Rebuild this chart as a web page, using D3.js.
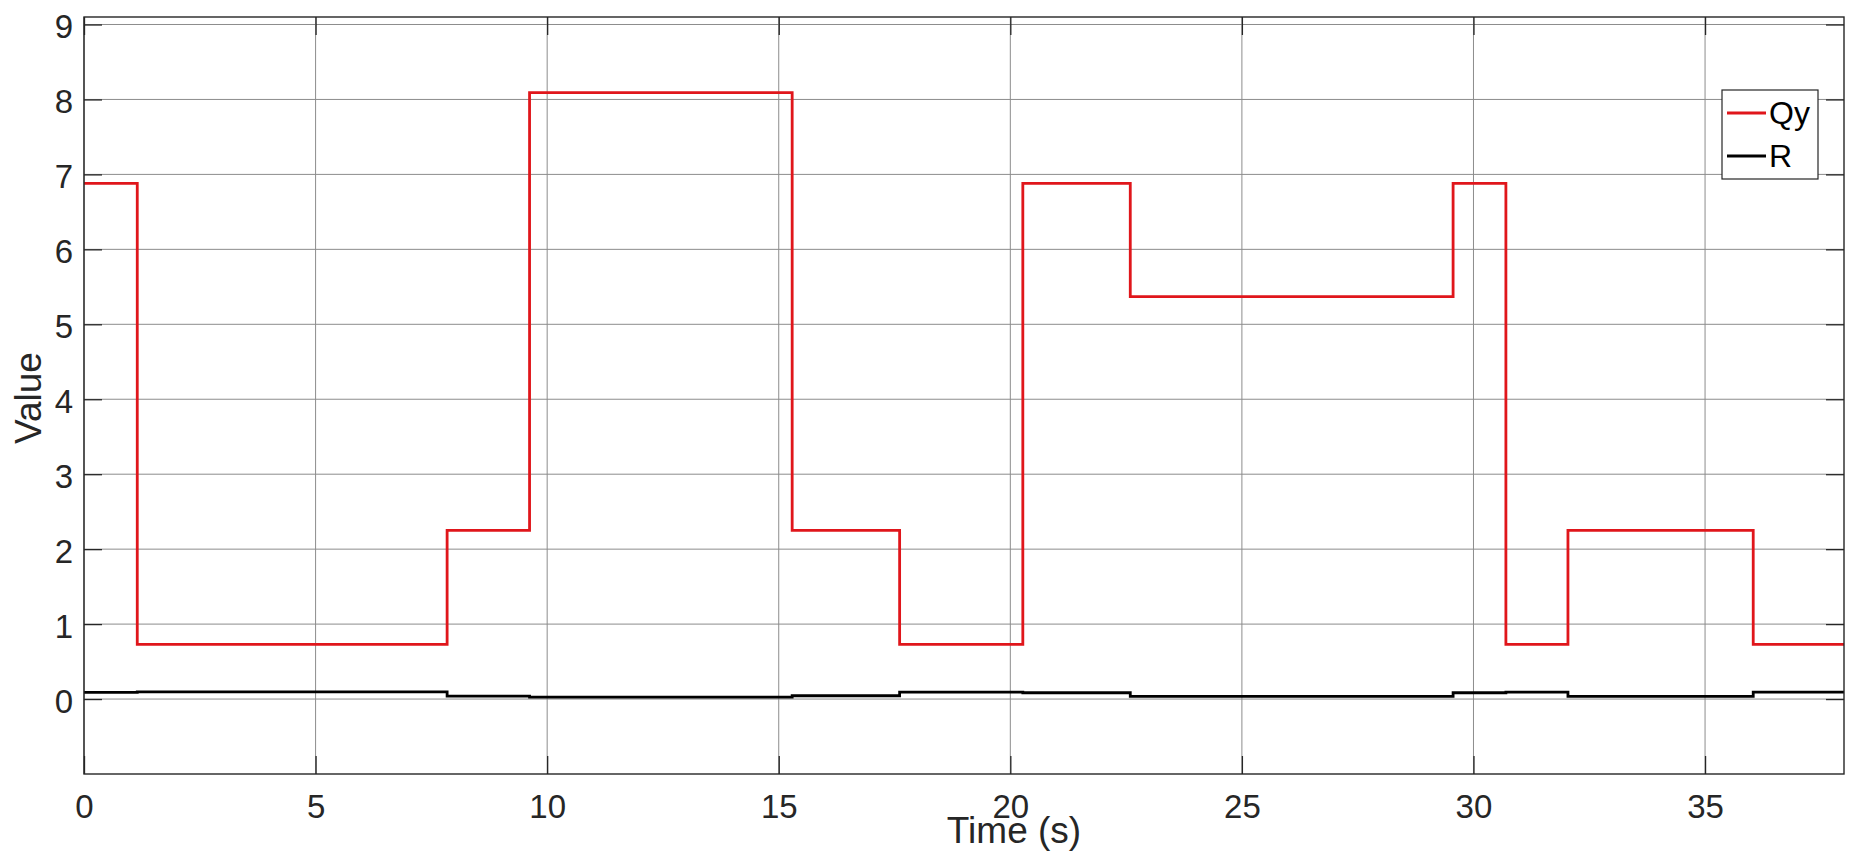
<!DOCTYPE html>
<html>
<head>
<meta charset="utf-8">
<script src="https://cdn.jsdelivr.net/npm/d3@7"></script>
<style>
  body { margin: 0; background: #fff; }
  svg { display: block; }
  svg text { font-family: "Liberation Sans", Arial, sans-serif; }
  .tick text { fill: #262626; }
</style>
</head>
<body>
<div id="chart"></div>
<script>
// step breakpoints (s) and the level held from each one
const times = [0, 1.15, 7.84, 9.62, 15.29, 17.61, 20.27, 22.59, 29.56, 30.70, 32.04, 36.04, 38];
const qy = [6.88, 0.73, 2.25, 8.09, 2.25, 0.73, 6.88, 5.37, 6.88, 0.73, 2.25, 0.73, 0.73];
const r = [0.088, 0.097, 0.040, 0.027, 0.044, 0.093, 0.084, 0.035, 0.084, 0.093, 0.035, 0.093, 0.093];
const xTicks = [0, 5, 10, 15, 20, 25, 30, 35];
const yTicks = [0, 1, 2, 3, 4, 5, 6, 7, 8, 9];
const seriesNames = ["Qy", "R"];
const seriesColors = ["#e0161b", "#000000"];

const W = 1855, H = 859;
const m = { left: 84, right: 11, top: 17, bottom: 85 };
const iw = W - m.left - m.right, ih = H - m.top - m.bottom;

const svg = d3.select("#chart").append("svg")
    .attr("width", W)
    .attr("height", H);

const x = d3.scaleLinear().domain([0, 38]).range([0, iw]);
const y = d3.scaleLinear().domain([-1, 9.1]).range([ih, 0]);

const g = svg.append("g").attr("transform", `translate(${m.left},${m.top})`);

// grid
g.append("g").selectAll("line").data(xTicks).enter().append("line")
    .attr("x1", d => x(d)).attr("x2", d => x(d))
    .attr("y1", 0).attr("y2", ih)
    .attr("stroke", "#8c8c8c").attr("stroke-width", 1);
g.append("g").selectAll("line").data(yTicks).enter().append("line")
    .attr("y1", d => y(d)).attr("y2", d => y(d))
    .attr("x1", 0).attr("x2", iw)
    .attr("stroke", "#8c8c8c").attr("stroke-width", 1);

// data lines
const line = d3.line()
    .x((d, i) => x(times[i]))
    .y(d => y(d))
    .curve(d3.curveStepAfter);

[qy, r].forEach((vals, k) => {
    g.append("path")
        .attr("d", line(vals))
        .attr("fill", "none")
        .attr("stroke", seriesColors[k])
        .attr("stroke-width", 2.8);
});

// axes, ticks pointing inward
const tl = 18;
const xAxis = g.append("g").attr("transform", `translate(0,${ih})`)
    .call(d3.axisBottom(x).tickValues(xTicks).tickSizeInner(-tl).tickSizeOuter(0).tickPadding(21));
const yAxis = g.append("g")
    .call(d3.axisLeft(y).tickValues(yTicks).tickSizeInner(-tl).tickSizeOuter(0).tickPadding(11));
g.append("g").attr("transform", `translate(${iw},0)`)
    .call(d3.axisRight(y).tickValues(yTicks).tickSizeInner(-tl).tickSizeOuter(0).tickFormat(""));
g.append("g")
    .call(d3.axisTop(x).tickValues(xTicks).tickSizeInner(-tl).tickSizeOuter(0).tickFormat(""));

g.selectAll(".domain").remove();
g.selectAll(".tick line").attr("stroke", "#262626").attr("stroke-width", 1.3);
xAxis.selectAll("text").attr("font-size", 33);
yAxis.selectAll("text").attr("font-size", 33).attr("dy", "0.4em");

g.append("rect")
    .attr("width", iw).attr("height", ih)
    .attr("fill", "none").attr("stroke", "#262626").attr("stroke-width", 1.4);

// labels
svg.append("text")
    .attr("x", 1014).attr("y", 843)
    .attr("text-anchor", "middle")
    .attr("font-size", 37)
    .attr("fill", "#262626")
    .text("Time (s)");

svg.append("text")
    .attr("transform", "translate(41,398) rotate(-90)")
    .attr("text-anchor", "middle")
    .attr("font-size", 37)
    .attr("fill", "#262626")
    .text("Value");

// legend
const lg = svg.append("g").attr("transform", "translate(1722,90)");
lg.append("rect")
    .attr("width", 96).attr("height", 89)
    .attr("fill", "#fff").attr("stroke", "#262626").attr("stroke-width", 1.2);
seriesNames.forEach((name, i) => {
    const yy = 23 + i * 43;
    lg.append("line")
        .attr("x1", 5).attr("x2", 44)
        .attr("y1", yy).attr("y2", yy)
        .attr("stroke", seriesColors[i]).attr("stroke-width", 2.8);
    lg.append("text")
        .attr("x", 47).attr("y", yy + 11)
        .attr("font-size", 32)
        .attr("fill", "#000")
        .text(name);
});
</script>
</body>
</html>
